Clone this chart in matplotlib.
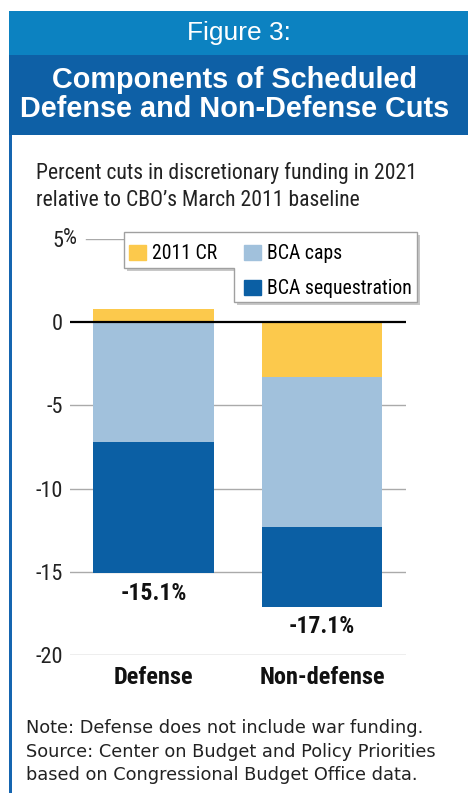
import matplotlib
matplotlib.use('Agg')
import matplotlib.pyplot as plt
from matplotlib import font_manager
from matplotlib.patches import Patch, Rectangle, Polygon

# data
categories = ['Defense', 'Non-defense']
cr_2011 = [0.8, -3.3]
bca_caps = [-7.2, -9.0]
bca_seq = [-7.9, -4.8]
totals = ['-15.1%', '-17.1%']
yticks = [5, 0, -5, -10, -15, -20]
ytick_labels = ['5', '0', '-5', '-10', '-15', '-20']

YELLOW = '#FCC94C'
LIGHT = '#A1C1DC'
DARK = '#0B5FA4'

# pick a condensed face if one is installed
names = {f.name for f in font_manager.fontManager.ttflist}
cond = None
for cand in ['Roboto Condensed', 'Liberation Sans Narrow', 'Open Sans Condensed', 'DejaVu Sans Condensed']:
    if cand in names:
        cond = cand
        break
if cond is None:
    cond_kw = dict(family='DejaVu Sans', stretch='condensed')
else:
    cond_kw = dict(family=cond)

W, H = 468, 793
fig = plt.figure(figsize=(W / 100, H / 100), dpi=100)


def fx(x):
    return x / W


def fy(y):
    return 1 - y / H


def px(pts):
    return [(fx(a), fy(b)) for a, b in pts]


# header bands and left border
fig.add_artist(Rectangle((fx(9), fy(55)), fx(W) - fx(9), fy(11) - fy(55),
                         transform=fig.transFigure, color='#0C82C1', lw=0))
fig.add_artist(Rectangle((fx(9), fy(135)), fx(W) - fx(9), fy(55) - fy(135),
                         transform=fig.transFigure, color='#0E60A6', lw=0))
fig.add_artist(Rectangle((fx(9), 0), fx(3), fy(135),
                         transform=fig.transFigure, color='#1565B0', lw=0))

fig.text(fx(239), fy(33), 'Figure 3:', color='white', ha='center', va='center',
         fontsize=19, family='Liberation Sans')
fig.text(fx(235), fy(80), 'Components of Scheduled', color='white', ha='center',
         va='center', fontsize=20.8, fontweight='bold', family='Liberation Sans')
fig.text(fx(235), fy(109), 'Defense and Non-Defense Cuts', color='white', ha='center',
         va='center', fontsize=20.8, fontweight='bold', family='Liberation Sans')

fig.text(fx(36), fy(173), 'Percent cuts in discretionary funding in 2021',
         ha='left', va='center', fontsize=15.6, color='#222222', **cond_kw)
fig.text(fx(36), fy(201), "relative to CBO\u2019s March 2011 baseline",
         ha='left', va='center', fontsize=15.6, color='#222222', **cond_kw)

# chart axes
ax = fig.add_axes([fx(70), fy(655), fx(406) - fx(70), fy(239) - fy(655)])
x = list(range(len(categories)))
bw = 0.718
neg_base = [min(c, 0) for c in cr_2011]
seq_base = [b + c for b, c in zip(neg_base, bca_caps)]
ax.bar(x, cr_2011, width=bw, color=YELLOW, zorder=2)
ax.bar(x, bca_caps, bottom=neg_base, width=bw, color=LIGHT, zorder=2)
ax.bar(x, bca_seq, bottom=seq_base, width=bw, color=DARK, zorder=2)

for v in yticks:
    if v == 0:
        ax.axhline(v, color='black', lw=1.6, zorder=4)
    elif v == 5:
        ax.axhline(v, xmin=16 / 336, color='#AAAAAA', lw=1, zorder=1)
    else:
        ax.axhline(v, color='#AAAAAA', lw=1, zorder=1)

ax.set_xlim(-0.4955, 1.4985)
ax.set_ylim(-20, 5)
for s in ax.spines.values():
    s.set_visible(False)
ax.set_yticks(yticks)
ax.set_yticklabels(ytick_labels, fontsize=16, color='#222222', **cond_kw)
ax.tick_params(axis='y', length=0, pad=5)
ax.text(-0.02, 5, '%', transform=ax.get_yaxis_transform(), ha='left', va='center',
        fontsize=16, color='#222222', **cond_kw)
ax.set_xticks(x)
ax.set_xticklabels(categories, fontsize=17.5, fontweight='bold', color='#111111', **cond_kw)
ax.tick_params(axis='x', length=0, pad=8)

for i, lab in enumerate(totals):
    bottom = seq_base[i] + bca_seq[i]
    ax.annotate(lab, xy=(i, bottom), xytext=(0, -6), textcoords='offset points',
                ha='center', va='top', fontsize=17, fontweight='bold',
                color='#111111', **cond_kw)

# stepped legend box with a soft shadow
box = [(124, 232), (417, 232), (417, 302), (234, 302), (234, 268), (124, 268)]
shadow = [(a + 3, b + 3) for a, b in box]
fig.add_artist(Polygon(px(shadow), closed=True, transform=fig.transFigure,
                       facecolor='#C8C8C8', edgecolor='none', zorder=5))
fig.add_artist(Polygon(px(box), closed=True, transform=fig.transFigure,
                       facecolor='white', edgecolor='#A0A0A0', lw=1, zorder=6))

handles = [Patch(color=YELLOW, label='2011 CR'),
           Patch(color='none', label=' '),
           Patch(color=LIGHT, label='BCA caps'),
           Patch(color=DARK, label='BCA sequestration')]
leg = fig.legend(handles=handles, ncol=2, loc='upper left',
                 bbox_to_anchor=(fx(129), fy(244)), bbox_transform=fig.transFigure,
                 frameon=False, borderpad=0, borderaxespad=0,
                 handlelength=0.85, handleheight=0.8, handletextpad=0.3,
                 columnspacing=1.4, labelspacing=0.82,
                 prop=font_manager.FontProperties(size=14.2, **cond_kw))
leg.set_zorder(7)

note_kw = dict(ha='left', va='center', fontsize=12.8, color='#222222', family='DejaVu Sans')
fig.text(fx(26), fy(728), 'Note: Defense does not include war funding.', **note_kw)
fig.text(fx(26), fy(752), 'Source: Center on Budget and Policy Priorities', **note_kw)
fig.text(fx(26), fy(775), 'based on Congressional Budget Office data.', **note_kw)

fig.savefig('out.png', dpi=100)
